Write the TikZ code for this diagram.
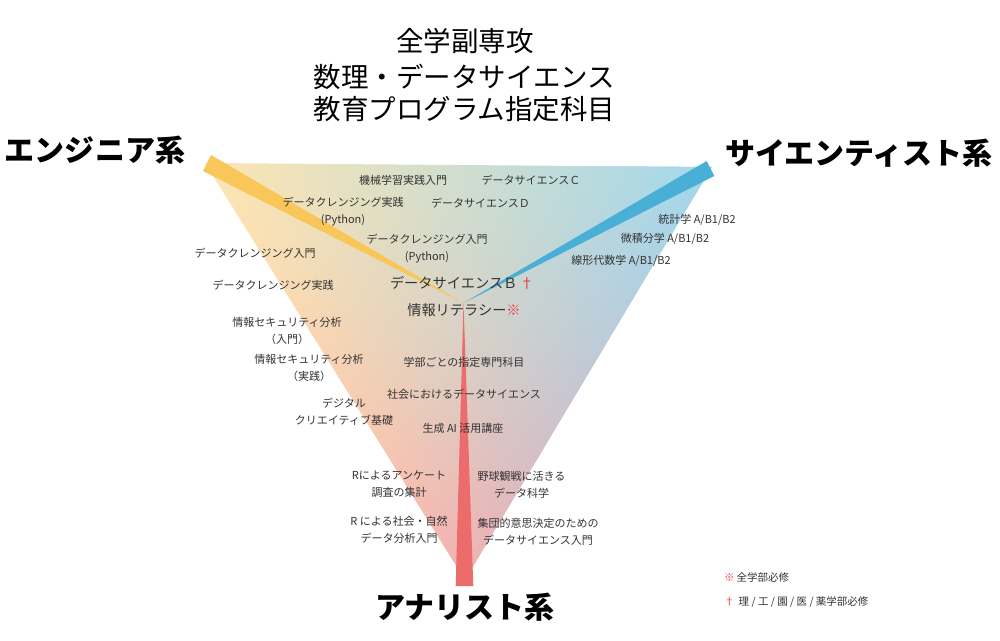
\documentclass[tikz,border=0pt]{standalone}
\usepackage{fontspec}
\setmainfont{Noto Sans CJK JP}
\definecolor{engC}{HTML}{F9C65A}
\definecolor{sciC}{HTML}{4AAFD6}
\definecolor{anaC}{HTML}{EC6C6C}
\definecolor{engL}{HTML}{FDE5B2}
\definecolor{sciL}{HTML}{A3D7EC}
\definecolor{anaL}{HTML}{F3B0B0}
\definecolor{txt}{HTML}{333333}
\definecolor{mark}{HTML}{E83A3A}
\begin{document}
\begin{tikzpicture}[x=1pt,y=-1pt,
  course/.style={font=\fontsize{11}{17}\selectfont, text=txt, align=center, inner sep=0pt},
  core/.style={font=\fontsize{14.2}{17}\selectfont, text=txt, inner sep=0pt},
  cat/.style={font=\fontsize{30}{34}\selectfont\bfseries, text=black, inner sep=0pt},
  ttl/.style={font=\fontsize{27.5}{34}\selectfont, text=black, inner sep=0pt},
  legend/.style={font=\fontsize{10.5}{14}\selectfont, text=txt, inner sep=0pt, anchor=west}]
\useasboundingbox (0,0) rectangle (1000,640);
% triangle corners
\coordinate (TL) at (205,163);
\coordinate (TR) at (712,167);
\coordinate (BV) at (465,580);
\coordinate (C) at (463.5,303);
% needle ends
\coordinate (E1) at (203,171);
\coordinate (E2) at (211,155);
\coordinate (S1) at (706.7,161);
\coordinate (S2) at (714.3,176);
\coordinate (A1) at (455.7,586);
\coordinate (A2) at (473.3,586);
% background triangle: three-corner blend built from horizontal strips
\begin{scope}
  \clip (TL) -- (TR) -- (BV) -- cycle;
  \foreach \i in {0,...,69} {
    \pgfmathsetmacro{\ya}{160+\i*6}
    \pgfmathsetmacro{\yb}{\ya+6.8}
    \pgfmathsetmacro{\tt}{min(max((\ya+3-165)/415,0),1)}
    \pgfmathsetmacro{\pp}{100*(\tt^1.4)}
    \pgfmathsetmacro{\xl}{205+\tt*260-3}
    \pgfmathsetmacro{\xr}{712-\tt*247+3}
    \shade[left color=anaL!\pp!engL, right color=anaL!\pp!sciL] (\xl,\ya) rectangle (\xr,\yb);
  }
\end{scope}
% needles
\fill[engC] (C) -- (E1) -- (E2) -- cycle;
\fill[sciC] (C) -- (S1) -- (S2) -- cycle;
\fill[anaC] (C) -- (A1) -- (A2) -- cycle;
% title
\node[ttl] (t1) at (465,41.5) {全学副専攻};
\node[ttl] (t2) at (464.5,76.5) {数理・データサイエンス};
\node[ttl] (t3) at (464.5,109.5) {教育プログラム指定科目};
% categories
\node[cat] (eng) at (95,150) {エンジニア系};
\node[cat] (sci) at (859,153) {サイエンティスト系};
\node[cat] (ana) at (465,607) {アナリスト系};
% courses
\node[course] (c1) at (403,180) {機械学習実践入門};
\node[course] (c2) at (531,180) {データサイエンスＣ};
\node[course] (c3) at (343,211.5) {データクレンジング実践\\(Python)};
\node[course] (c4) at (480.5,203) {データサイエンスＤ};
\node[course] (c5) at (427,248.5) {データクレンジング入門\\(Python)};
\node[course] (c6) at (255,253) {データクレンジング入門};
\node[course] (c7) at (273,285) {データクレンジング実践};
\node[core] (dsb) at (462,283) {データサイエンスＢ\,\textcolor{mark}{†}};
\node[core] (lit) at (464,310) {情報リテラシー\textcolor{mark}{※}};
\node[course] (s1) at (697,220) {統計学 A/B1/B2};
\node[course] (s2) at (665,239) {微積分学 A/B1/B2};
\node[course] (s3) at (621,261) {線形代数学 A/B1/B2};
\node[course] (c8) at (287,331) {情報セキュリティ分析\\（入門）};
\node[course] (c9) at (309,367.5) {情報セキュリティ分析\\（実践）};
\node[course] (c10) at (344,412) {デジタル\\クリエイティブ基礎};
\node[course] (m1) at (464,362) {学部ごとの指定専門科目};
\node[course] (m2) at (464,394) {社会におけるデータサイエンス};
\node[course] (m3) at (463,428) {生成 AI 活用講座};
\node[course] (a1) at (399,484.5) {Rによるアンケート\\調査の集計};
\node[course] (a2) at (521.5,484.5) {野球観戦に活きる\\データ科学};
\node[course] (a3) at (399,529.5) {R による社会・自然\\データ分析入門};
\node[course] (a4) at (538,532) {集団的意思決定のための\\データサイエンス入門};
% legend
\node[legend] (l1) at (724,577) {\textcolor{mark}{※}\hspace{2pt}全学部必修};
\node[legend] (l2) at (724,602) {\textcolor{mark}{†}\hspace{4pt}理 / 工 / 園 / 医 / 薬学部必修};
\end{tikzpicture}
\end{document}
